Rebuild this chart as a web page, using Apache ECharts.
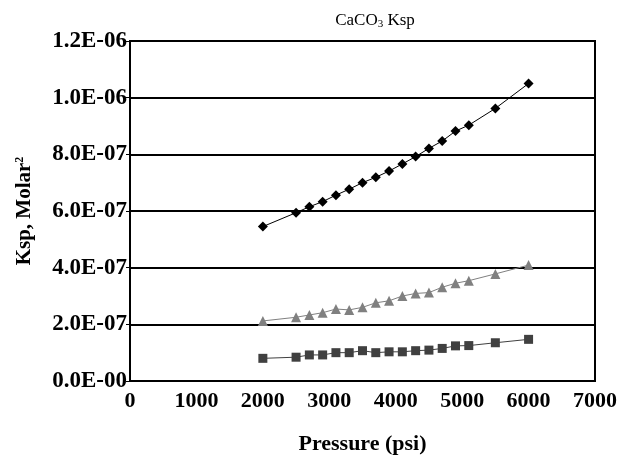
<!DOCTYPE html>
<html>
<head>
<meta charset="utf-8">
<script src="https://cdn.jsdelivr.net/npm/echarts@6/dist/echarts.min.js"></script>
<style>
  html, body { margin: 0; padding: 0; background: #fff; }
  #chart { width: 620px; height: 461px; }
</style>
</head>
<body>
<div id="chart"></div>
<script>
// Pressure (psi) at which each Ksp value was computed
const pressure = [2000, 2500, 2700, 2900, 3100, 3300, 3500, 3700, 3900, 4100, 4300, 4500, 4700, 4900, 5100, 5500, 6000];

// Ksp (Molar^2) series
const kspDiamond = [5.45e-7, 5.94e-7, 6.15e-7, 6.33e-7, 6.56e-7, 6.77e-7, 7.00e-7, 7.19e-7, 7.41e-7, 7.66e-7, 7.92e-7, 8.21e-7, 8.47e-7, 8.82e-7, 9.03e-7, 9.62e-7, 1.05e-6];
const kspTriangle = [2.12e-7, 2.25e-7, 2.33e-7, 2.41e-7, 2.54e-7, 2.51e-7, 2.60e-7, 2.76e-7, 2.83e-7, 3.00e-7, 3.09e-7, 3.12e-7, 3.31e-7, 3.45e-7, 3.54e-7, 3.78e-7, 4.09e-7];
const kspSquare = [8.0e-8, 8.4e-8, 9.2e-8, 9.2e-8, 1.0e-7, 1.0e-7, 1.07e-7, 1.0e-7, 1.03e-7, 1.03e-7, 1.07e-7, 1.09e-7, 1.15e-7, 1.24e-7, 1.25e-7, 1.35e-7, 1.47e-7];

const xTicks = { min: 0, max: 7000, step: 1000 };
const yTicks = { min: 0, max: 1.2e-6, step: 2e-7 };

const SERIF = '"Liberation Serif", "Times New Roman", serif';

function pairs(ys) {
  return pressure.map((p, i) => [p, ys[i]]);
}

// Scientific labels in the 1.2E-06 style
function sciLabel(v) {
  if (Math.abs(v) < 1e-12) return '0.0E-00';
  let e = Math.floor(Math.log10(Math.abs(v)) + 1e-9);
  let m = v / Math.pow(10, e);
  if (Math.round(m * 10) / 10 >= 10) { m /= 10; e += 1; }
  const sign = e < 0 ? '-' : '+';
  const ae = Math.abs(e);
  return m.toFixed(1) + 'E' + sign + (ae < 10 ? '0' + ae : ae);
}

function lineSeries(ys, symbol, size, color) {
  return {
    type: 'line',
    data: pairs(ys),
    symbol: symbol,
    symbolSize: size,
    showAllSymbol: true,
    itemStyle: { color: color },
    lineStyle: { color: color, width: 1 },
    emphasis: { disabled: true },
    z: 3
  };
}

const chart = echarts.init(document.getElementById('chart'), null, { renderer: 'canvas' });
chart.setOption({
  animation: false,
  backgroundColor: '#ffffff',
  title: {
    text: '{a|CaCO}{s|3}{a| Ksp}',
    left: 370,
    top: 6,
    textAlign: 'center',
    textStyle: {
      fontWeight: 'normal',
      rich: {
        a: { fontFamily: SERIF, fontWeight: 'normal', fontSize: 17, color: '#000' },
        s: { fontFamily: SERIF, fontWeight: 'normal', fontSize: 11, color: '#000', verticalAlign: 'bottom', padding: [8, 0, 0, 0] }
      }
    }
  },
  grid: {
    left: 130, right: 24, top: 41, bottom: 80,
    show: true, borderColor: '#000', borderWidth: 2, backgroundColor: 'transparent'
  },
  xAxis: {
    type: 'value',
    min: xTicks.min, max: xTicks.max, interval: xTicks.step,
    name: 'Pressure (psi)',
    nameLocation: 'middle',
    nameGap: 52,
    nameTextStyle: { fontFamily: SERIF, fontWeight: 'bold', fontSize: 22, color: '#000' },
    axisLine: { lineStyle: { color: '#000', width: 2 } },
    axisTick: { show: false },
    splitLine: { show: false },
    axisLabel: {
      fontFamily: SERIF, fontWeight: 'bold', fontSize: 22, color: '#000', margin: 9,
      formatter: (v) => String(v)
    }
  },
  yAxis: {
    type: 'value',
    min: yTicks.min, max: yTicks.max, interval: yTicks.step,
    name: '{n|Ksp, Molar}{p|2}',
    nameLocation: 'middle',
    nameGap: 94,
    nameRotate: 90,
    nameTextStyle: {
      rich: {
        n: { fontFamily: SERIF, fontWeight: 'bold', fontSize: 21, color: '#000' },
        p: { fontFamily: SERIF, fontWeight: 'bold', fontSize: 12, color: '#000', verticalAlign: 'top', padding: [0, 0, 10, 0] }
      }
    },
    axisLine: { show: true, lineStyle: { color: '#000', width: 2 } },
    axisTick: { show: true, inside: false, length: 4, lineStyle: { color: '#000', width: 1 } },
    splitLine: { show: true, lineStyle: { color: '#000', width: 2 } },
    axisLabel: {
      fontFamily: SERIF, fontWeight: 'bold', fontSize: 23, color: '#000', margin: 3,
      formatter: sciLabel
    }
  },
  series: [
    lineSeries(kspDiamond, 'diamond', 10, '#000000'),
    lineSeries(kspTriangle, 'triangle', 10, '#808080'),
    lineSeries(kspSquare, 'rect', 9, '#404040')
  ]
});
</script>
</body>
</html>
